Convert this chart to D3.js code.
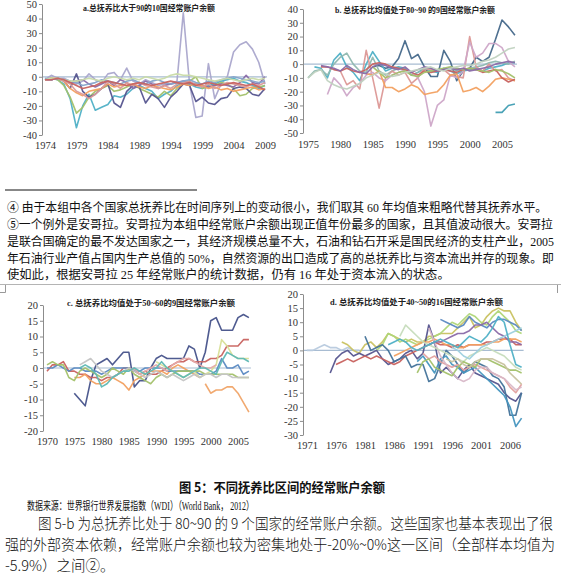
<!DOCTYPE html>
<html><head><meta charset="utf-8">
<script src="https://cdn.jsdelivr.net/npm/d3@7"></script>
<style>body{margin:0;background:#fff}svg{display:block}</style>
</head><body>
<svg id="c" width="561" height="577"></svg>
<script>
// ---------- DATA ----------
// Panel a: 10 countries, dependency ratio > 90
const aXTicks = [1974, 1979, 1984, 1989, 1994, 1999, 2004, 2009];
const aYTicks = [-40, -30, -20, -10, 0, 10, 20, 30, 40, 50];
const aStarts = [1974, 1974, 1974, 1974, 1974, 1974, 1974, 1974, 1974, 1974];
const aValues = [
  [-2,1,-1,-1,-3,-5,-3,2,-2,-4,2,3,-2,6,-3,-5,-2,-4,-6,-5,-5,-3,44,-5,-28,-27,9,-15,-5,0,17,22,24,19,10,-5],
  [-2,-1,-2,-5,-15,-35,-20,-12,-23,-21,-19,-13,-14,-12,-8,-6,-8,-10,-15,-12,-10,-6,-4,-5,-7,-8,-6,-5,-3,-2,-1,-3,-4,-6,-8,-6],
  [-2,-1,-2,-6,-14,-25,-21,-14,-10,-8,-6,-10,-9,-7,-5,-8,-10,-12,-14,-10,-13,-8,-5,-3,0,-8,-7,-6,-4,-5,-8,-13,-12,-8,-7,-6],
  [-2,-2,-1,-3,-8,2,-10,-14,-12,-8,-5,-18,-21,-10,-6,-7,-18,-12,-15,-21,-14,-10,-5,-6,-17,-14,-18,-19,-15,-14,-8,-7,-8,-12,-13,-8],
  [-2,-2,-1,-2,-4,-3,-2,-5,-7,-5,-3,-6,-2,-4,-8,-6,-3,-5,-8,-6,-5,-4,-3,-4,-5,-6,-7,-6,-5,-6,-7,-4,1,-4,-5,0],
  [-2,-1,-1,-3,-8,-11,-13,-10,-9,-8,-5,-7,-6,-6,-5,-7,-8,-6,-7,-8,-9,-7,-5,-6,-5,-6,-8,-7,-9,-8,-10,-9,-8,-7,-9,-8],
  [-2,-2,-1,-3,-5,-10,-12,-15,-12,-8,-3,-5,-8,-4,-6,-4,-6,-7,-8,-6,-8,-5,-4,-3,-6,-7,-5,-8,-6,-4,-5,-6,-7,-5,-6,-4],
  [-1,-2,-1,-2,-3,-4,-6,-5,-4,-2,-3,-4,-5,-3,-2,-4,-5,-3,-2,-4,-5,-4,-3,-2,-4,-5,-3,-4,-2,-1,0,-1,-2,-3,-4,-3],
  [-2,-1,-1,-2,-3,-3,-2,-1,-2,-3,-1,0,-1,-2,-1,-2,0,-1,-2,-1,1,2,1,1,0,-1,-2,-3,-2,-1,-2,-3,-2,-1,-2,-1],
  [-2,-2,-1,-2,-4,-6,-8,-7,-6,-4,-3,-4,-5,-6,-5,-4,-5,-6,-5,-4,-3,-4,-5,-4,-6,-5,-4,-5,-6,-5,-4,-5,-6,-5,-7,-9]
];
const aColors = ["#aaa6cc","#4fb0c6","#a3c16a","#55548e","#8a6aa8","#f4a060","#dc9a98","#86a4cb","#c9dba8","#c8625f"];

// Panel b: 9 countries, dependency ratio 80~90
const bXTicks = [1975, 1980, 1985, 1990, 1995, 2000, 2005];
const bYTicks = [-50, -40, -30, -20, -10, 0, 10, 20, 30, 40];
const bStarts = [1985, 1976, 1975, 1980, 1978, 1984, 1977, 1985, 1977, 1975, 2004];
const bValues = [
  [-2,-1,-3,-2,4,17,4,7,-2,-9,-9,10,2,-12,-5,-3,5,2,5,18,32,27,21],
  [-2,-3,-10,3,8,-2,-6,-12,0,9,2,-5,-3,-2,-3,-8,-6,-3,-5,-6,-3,-5,-7,-5,-4,-3,-5,-3,-2,-1,1,1],
  [-10,-5,-4,-8,0,5,8,0,-5,-6,5,-5,-8,-5,-3,-4,-8,-6,-4,-3,-5,-4,-3,-5,-4,-3,-2,-1,1,2,1,0,2],
  [-5,-15,-12,-18,10,-10,-32,-10,-5,-8,-6,-14,-10,-3,-4,-5,-4,-8,-9,-10,20,-2,-5,0,-5,-4,-10,-12],
  [-22,-10,-15,-23,-17,-14,-8,-6,-10,-12,-8,-6,-4,-6,-10,-20,-45,-30,-26,-8,-10,-5,16,5,8,15,15,12,2,-2],
  [-7,-8,-5,-17,-17,-20,-18,-15,-17,-22,-21,-20,-15,-8,-7,-20,-19,-17,-20,-16,-11,-10,-11,-12],
  [-2,-2,-4,-5,-3,-5,-6,-4,0,1,0,-2,-3,-4,-6,-8,-5,-6,-5,-4,-5,-6,-4,-3,-4,-6,-5,-4,-10,-13,-11],
  [-2,-6,-10,-8,-6,-5,-8,-9,-6,-5,-4,-3,-2,-3,-4,-3,-4,-5,-6,-4,-5,-7,-10],
  [-1,-2,-3,-5,-1,-4,-6,-7,-2,0,-1,-3,-4,-2,-6,-4,-2,-3,-5,-4,-3,-4,-3,-5,-4,-3,-2,0,1,2,1],
  [-10,-6,-4,-12,-15,-17,-18,-16,-14,-10,-8,-6,-7,-9,-8,-6,-5,-4,-3,-2,-4,-5,-3,-2,-1,-1,0,2,3,5,8,11,12],
  [-35,-35,-30,-29]
];
const bColors = ["#45688a","#4fb0c6","#8fb8b0","#dc9896","#cda6c8","#f2a060","#c8625f","#a3c16a","#8a6aa8","#c0d2c0","#3f9db2"];

// Panel c: 9 countries, dependency ratio 50~60
const cXTicks = [1970, 1975, 1980, 1985, 1990, 1995, 2000, 2005];
const cYTicks = [-20, -15, -10, -5, 0, 5, 10, 15, 20];
const cStarts = [1975, 1970, 1975, 1970, 1970, 1990, 1976, 1985, 1999, 1976];
const cValues = [
  [-8,-10,-12,-4,1,2,3,1,3,5,5,-6,-4,-4,0,3,4,3,3,3,3,7,6,0,5,15,16,12,12,12,16,17,16],
  [-1,1,1,2,-1,-1,-2,-2,-3,-3,-4,-3,-3,-2,0,0,-1,-2,-1,-2,-2,-1,0,1,2,2,3,2,2,2,3,3,4,7,7,7,9,9],
  [-3,-3,-2,-4,-5,-5,-4,-3,-4,-5,-7,-4,-3,-2,-1,-1,-1,-2,0,1,0,-1,-2,-3],
  [0,0,1,0,-1,0,0,-1,-1,-1,-2,-1,0,0,0,0,-1,-1,0,0,0,0,-1,-1,-1,-1,-1,-1,-2,-2,-2,-1,3,0,0,1,-2,-1],
  [1,2,1,1,-3,-4,-1,0,-1,-2,-3,-2,0,-1,-2,0,-2,-3,-4,-5,-3,-2,-3,-2,-1,-1,-1,-1,-1,-2,-2,-2,-2,-2,-2,-3,-3,-3],
  [2,1,0,-1,-2,-3,-2,-1,-3,-2,-1,1,9,7,4,3,3,3],
  [1,2,3,1,-1,-2,-3,-2,-1,0,-1,-2,-3,-2,-1,-2,-3,-2,-3,-4,-3,-2,-3,-2,-2,-3,-2,-2,-3,-3,-3,-3],
  [-1,0,-2,-1,0,1,0,-1,1,2,3,3,2,1,0,0,1],
  [-5,-8,-7,-7,-6,-6,-8,-11,-14],
  [0,1,0,-2,-6,-5,-3,-2,-1,-1,0,-1,-2,-1,0,2,0,-1,-2,-3,-2,-1,0,0,-1,-2,2,5,4,3,3,2]
];
const cColors = ["#46528a","#c8625f","#f2a060","#5b8ac2","#a3c16a","#d8df96","#c4c4c4","#e6aaa8","#f0a468","#5fb8b4"];

// Panel d: 16 countries, dependency ratio 40~50
const dXTicks = [1971, 1976, 1981, 1986, 1991, 1996, 2001, 2006];
const dYTicks = [-30, -25, -20, -15, -10, -5, 0, 5, 10, 15, 20];
const dStarts = [1971, 1977, 1983, 1975, 1976, 1986, 1981, 1990, 1991, 1992, 1987, 1994, 1992, 1990, 1996, 1995, 1985];
const dValues = [
  [0,0,1,2,1,1,0,1,0,0],
  [3,2,0,-1,2,3,1,3,6,5,4,3,4,3,3,5,5,6,6,6,8,10,12,8,9,12,14,15,14,14,10,7],
  [0,2,6,5,3,4,3,2,3,4,5,6,8,10,9,11,13,12,10,9,12,14,12,10,7,6],
  [-8,-3,-1,0,-2,-1,-2,-1,0,-3,-5,-4,-3,-1,0,-3,-1,9,3,-8,-6,-8,-10,-7,-5,-8,-9,-10,-11,-12,-15,-17,-18,-15],
  [-5,-4,-3,-4,-3,-2,-3,-2,-3,-4,-5,-4,-2,-1,0,1,2,3,2,2,1,2,1,2,2,2,3,3,4,4,4,2,2],
  [-2,-1,0,1,2,3,3,4,3,2,2,1,1,2,2,2,2,3,3,4,4,4,3],
  [5,0,1,2,0,-4,-3,-2,-6,-5,-5,-11,-10,-5,0,-2,-5,-8,-6,-4,-5,-6,-9,-10,-13,-23,-23,-15],
  [-4,-2,-5,-8,-3,-2,-5,-6,-8,-7,-6,-8,-10,-12,-14,-16,-20,-27,-24],
  [-1,-3,-2,-4,-5,-6,-5,-7,-6,-5,-6,-7,-8,-9,-10,-13,-15,-12],
  [8,3,-2,-5,-8,-10,-11,-10,-7,-6,-6,-8,-9,-10,-12,-14,-13],
  [5,9,7,5,3,2,1,0,-1,-2,-3,-4,-2,-1,0,1,0,-1,-2,-4,-6,-7],
  [11,10,9,8,9,12,10,9,8,10,11,11,10,9,7],
  [2,3,3,4,5,6,6,7,9,9,10,8,6,5,3,3,2],
  [-8,-4,-3,-6,-7,-8,-9,-6,-4,-5,-6,-3,-3,-4,-5,-6,-7,-7,-8],
  [1,0,-2,-3,-1,1,2,3,4,5,6,7,8],
  [-3,-4,-3,-5,-6,-4,-3,-3,-3,-4,-5,-8,-10,-12],
  [2,3,4,3,1,0,1,2,3,4,3,2,1,3,5,4,3,5,8,12,10,2,-5,-6]
];
const dColors = ["#b8cade","#c9c262","#afd678","#55548e","#c8625f","#f2a060","#43739a","#4495bf","#e3a09e","#d8b8c8","#c6dcbc","#5b8ac2","#8a6aa8","#a3c16a","#9dd0de","#c8c2a0","#4fb0c6"];

// Text
const aTitle = "a.总抚养比大于90的10国经常账户余额";
const bTitle = "b. 总抚养比均值处于80~90 的9国经常账户余额";
const cTitle = "c. 总抚养比均值处于50~60的9国经常账户余额";
const dTitle = "d. 总抚养比均值处于40~50的16国经常账户余额";
const footLines = [
  "④ 由于本组中各个国家总抚养比在时间序列上的变动很小，我们取其 60 年均值来粗略代替其抚养水平。",
  "⑤一个例外是安哥拉。安哥拉为本组中经常账户余额出现正值年份最多的国家，且其值波动很大。安哥拉",
  "是联合国确定的最不发达国家之一，其经济规模总量不大，石油和钻石开采是国民经济的支柱产业，2005",
  "年石油行业产值占国内生产总值的 50%，自然资源的出口造成了高的总抚养比与资本流出并存的现象。即",
  "使如此，根据安哥拉 25 年经常账户的统计数据，仍有 16 年处于资本流入的状态。"
];
const figTitle = "图 5：不同抚养比区间的经常账户余额";
const sourceLine = "数据来源：世界银行世界发展指数（WDI）（World Bank， 2012）";
const paraLines = [
  "图 5-b 为总抚养比处于 80~90 的 9 个国家的经常账户余额。这些国家也基本表现出了很",
  "强的外部资本依赖，经常账户余额也较为密集地处于-20%~0%这一区间（全部样本均值为",
  "-5.9%）之间②。"
];

// ---------- DRAW ----------
const svg = d3.select("#c");
svg.append("rect").attr("width", 561).attr("height", 577).attr("fill", "#fff");

const serif = "'Liberation Serif','Times New Roman','Noto Sans CJK SC',serif";

function panel(cfg) {
  const g = svg.append("g");
  const x = d3.scaleLinear().domain(cfg.xDom).range(cfg.xRng);
  const y = d3.scaleLinear().domain(cfg.yDom).range(cfg.yRng);
  g.append("line").attr("x1", cfg.axisX).attr("x2", x(cfg.lastYear) + 2)
    .attr("y1", y(0)).attr("y2", y(0)).attr("stroke", "#a8bcd2").attr("stroke-width", 1.2);
  const ya = g.append("g").attr("transform", `translate(${cfg.axisX},0)`)
    .call(d3.axisLeft(y).tickValues(cfg.yTicks).tickSize(3).tickSizeOuter(0).tickFormat(d => String(d)));
  ya.select(".domain").attr("stroke", "#8c8c8c");
  ya.selectAll(".tick line").attr("stroke", "#8c8c8c");
  ya.selectAll(".tick text").attr("font-family", serif).attr("font-size", 10.5).attr("fill", "#333").attr("x", -5);
  const xa = g.append("g").attr("transform", `translate(0,${cfg.xLabelY})`)
    .call(d3.axisBottom(x).tickValues(cfg.xTicks).tickSize(0).tickFormat(d => String(d)));
  xa.select(".domain").remove();
  xa.selectAll(".tick text").attr("font-family", serif).attr("font-size", 10.5).attr("fill", "#333").attr("dy", "0.71em").attr("y", 0);
  const line = d3.line().x(d => x(d[0])).y(d => y(d[1])).curve(d3.curveLinear);
  cfg.values.forEach((vals, i) => {
    const pts = vals.map((v, k) => [cfg.starts[i] + k, v]);
    g.append("path").attr("d", line(pts)).attr("fill", "none")
      .attr("stroke", cfg.colors[i]).attr("stroke-width", 1.6).attr("stroke-linejoin", "round").attr("opacity", 0.95);
  });
  g.append("text").attr("x", cfg.title[1]).attr("y", cfg.title[2]).attr("textLength", cfg.title[3])
    .attr("lengthAdjust", "spacingAndGlyphs")
    .attr("font-family", serif).attr("font-weight", "bold").attr("font-size", 8.5).attr("fill", "#222")
    .text(cfg.title[0]);
}

panel({xDom: [1974, 2009], xRng: [45, 265], yDom: [-40, 50], yRng: [135, 4], axisX: 42, lastYear: 2009,
  xTicks: aXTicks, yTicks: aYTicks, xLabelY: 142, starts: aStarts, values: aValues, colors: aColors,
  title: [aTitle, 83, 11, 132]});
panel({xDom: [1975, 2005], xRng: [308, 502], yDom: [-50, 40], yRng: [133, 9], axisX: 303, lastYear: 2007,
  xTicks: bXTicks, yTicks: bYTicks, xLabelY: 141, starts: bStarts, values: bValues, colors: bColors,
  title: [bTitle, 335, 13, 160]});
panel({xDom: [1970, 2005], xRng: [47, 238], yDom: [-20, 20], yRng: [431, 305], axisX: 43, lastYear: 2007,
  xTicks: cXTicks, yTicks: cYTicks, xLabelY: 438, starts: cStarts, values: cValues, colors: cColors,
  title: [cTitle, 67, 306, 168]});
panel({xDom: [1971, 2006], xRng: [307, 510], yDom: [-30, 20], yRng: [435, 294], axisX: 303, lastYear: 2008,
  xTicks: dXTicks, yTicks: dYTicks, xLabelY: 442, starts: dStarts, values: dValues, colors: dColors,
  title: [dTitle, 330, 305, 173]});

svg.append("line").attr("x1", 5).attr("x2", 197).attr("y1", 190).attr("y2", 190).attr("stroke", "#111").attr("stroke-width", 1);

const cjk = "'Liberation Serif','Noto Sans CJK SC',serif";
const footY = [212, 229, 246, 263, 279];
const footLen = [540, 546, 547, 547, null];
footLines.forEach((t, i) => {
  const el = svg.append("text").attr("x", 7).attr("y", footY[i])
    .attr("font-family", cjk).attr("font-size", 12.3).attr("fill", "#111").text(t);
  if (footLen[i]) el.attr("textLength", footLen[i]).attr("lengthAdjust", "spacingAndGlyphs");
});

svg.append("line").attr("x1", 0).attr("x2", 561).attr("y1", 284.5).attr("y2", 284.5).attr("stroke", "#b4b4b4");
svg.append("path").attr("d", "M0,292.5H5.5V285").attr("fill", "none").attr("stroke", "#999");
svg.append("path").attr("d", "M557.5,285V293").attr("fill", "none").attr("stroke", "#999");

svg.append("text").attr("x", 179).attr("y", 492).attr("textLength", 206).attr("lengthAdjust", "spacingAndGlyphs")
  .attr("font-family", "'Noto Sans CJK SC',sans-serif").attr("font-weight", "bold").attr("font-size", 13).attr("fill", "#111").text(figTitle);
svg.append("text").attr("x", 27).attr("y", 510).attr("textLength", 227).attr("lengthAdjust", "spacingAndGlyphs")
  .attr("font-family", cjk).attr("font-size", 11.5).attr("fill", "#111").text(sourceLine);
const paraY = [529, 550, 571];
const paraX = [38, 5, 5];
const paraLen = [515, 550, null];
paraLines.forEach((t, i) => {
  const el = svg.append("text").attr("x", paraX[i]).attr("y", paraY[i])
    .attr("font-family", "'Noto Sans CJK SC',sans-serif").attr("font-weight", 300).attr("font-size", 14.5).attr("fill", "#111").text(t);
  if (paraLen[i]) el.attr("textLength", paraLen[i]).attr("lengthAdjust", "spacingAndGlyphs");
});
</script>
</body></html>
